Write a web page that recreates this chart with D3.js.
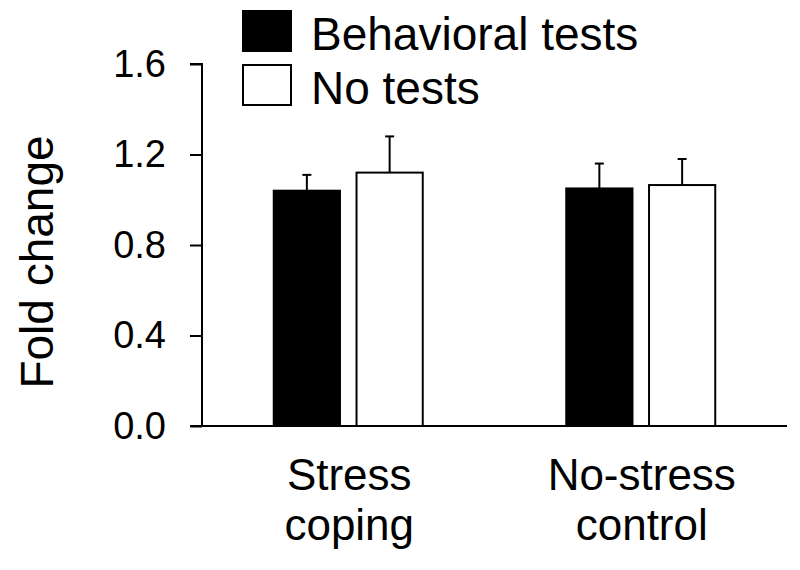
<!DOCTYPE html>
<html><head><meta charset="utf-8">
<script src="https://cdn.jsdelivr.net/npm/d3@7"></script>
<style>body{margin:0;background:#fff}text{font-family:"Liberation Sans",Arial,sans-serif;fill:#000}</style>
</head><body><svg id="c" width="800" height="570"></svg>
<script>
const categories = [["Stress","coping"],["No-stress","control"]];
const series = ["Behavioral tests","No tests"];
const meanBehavioral = [1.04, 1.05];
const errBehavioral = [0.07, 0.11];
const meanNoTests = [1.12, 1.065];
const errNoTests = [0.16, 0.115];
const yTicks = [0.0, 0.4, 0.8, 1.2, 1.6];
const colors = ["#000000", "#ffffff"];

const svg = d3.select("#c");
const y = d3.scaleLinear().domain([0, 1.6]).range([426, 64]);
const x0 = d3.scaleBand().domain(categories.map((d,i)=>i)).range([202, 787]).padding(0);
const x1 = d3.scaleBand().domain([0,1]).range([0, 149]).paddingInner(0.2);

const data = [];
categories.forEach((c,i)=>{
  data.push({g:i,s:0,v:meanBehavioral[i],e:errBehavioral[i]});
  data.push({g:i,s:1,v:meanNoTests[i],e:errNoTests[i]});
});
const bx = d => x0(d.g) + x0.bandwidth()/2 - 74.5 + x1(d.s);

// error bars
const eb = svg.append("g").attr("stroke","#000").attr("stroke-width",2);
data.forEach(d=>{
  const cx = bx(d) + x1.bandwidth()/2;
  eb.append("line").attr("x1",cx).attr("x2",cx).attr("y1",y(d.v)).attr("y2",y(d.v+d.e));
  eb.append("line").attr("x1",cx-4.5).attr("x2",cx+4.5).attr("y1",y(d.v+d.e)).attr("y2",y(d.v+d.e));
});
// bars
svg.append("g").selectAll("rect").data(data).join("rect")
  .attr("x", d=>bx(d)).attr("width", x1.bandwidth())
  .attr("y", d=>y(d.v)).attr("height", d=>y(0)-y(d.v))
  .attr("fill", d=>colors[d.s]).attr("stroke","#000").attr("stroke-width",2);

// y axis
const yAxis = d3.axisLeft(y).tickValues(yTicks).tickFormat(d3.format(".1f")).tickSize(12).tickPadding(24);
const ga = svg.append("g").attr("transform","translate(202,0)").call(yAxis);
ga.select(".domain").attr("stroke-width",2).attr("d","M-12,64H0V426");
ga.selectAll(".tick line").attr("stroke-width",2);
ga.selectAll(".tick text").attr("font-size",38).attr("font-family","Liberation Sans, Arial, sans-serif").attr("fill","#000");

// x axis baseline
svg.append("line").attr("x1",190).attr("x2",787).attr("y1",y(0)).attr("y2",y(0)).attr("stroke","#000").attr("stroke-width",2);

// category labels
categories.forEach((c,i)=>{
  const cx = x0(i)+x0.bandwidth()/2 + 1;
  c.forEach((t,j)=>{
    svg.append("text").attr("x",cx).attr("y",490+j*50).attr("text-anchor","middle").attr("font-size",44).text(t);
  });
});

// y label
svg.append("text").attr("transform","translate(53,262) rotate(-90)").attr("text-anchor","middle").attr("font-size",46).text("Fold change");

// legend
series.forEach((s,i)=>{
  svg.append("rect").attr("x",243).attr("y",11+i*54).attr("width",48).attr("height",40)
    .attr("fill",colors[i]).attr("stroke","#000").attr("stroke-width",2);
  svg.append("text").attr("x",311).attr("y",50+i*54).attr("font-size",46).text(s);
});
</script></body></html>
